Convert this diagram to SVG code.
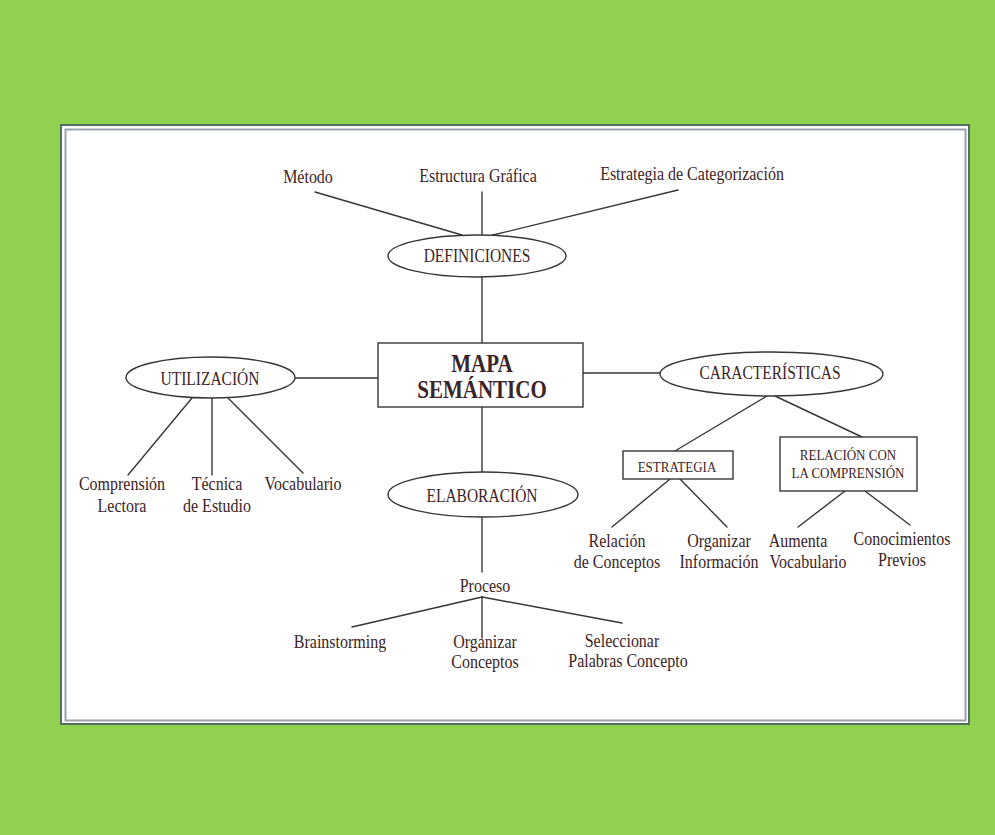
<svg xmlns="http://www.w3.org/2000/svg" width="995" height="835" viewBox="0 0 995 835">
<defs>
<style>
.bg{fill:#92d050}
.panel{fill:#ffffff;stroke:#4f6f60;stroke-width:2}
.inner{fill:none;stroke:#9aa3ad;stroke-width:2}
.shape{fill:#ffffff;stroke:#3a3535;stroke-width:1.4}
.wire{fill:none;stroke:#3a3535;stroke-width:1.4;stroke-linecap:round}
text{font-family:"Liberation Serif","Times New Roman",serif;fill:#3b2426;text-anchor:middle}
.t{font-size:16px}
.cap{font-size:15.5px}
.sm{font-size:13px}
.title{font-size:21px;font-weight:bold}
</style>
</defs>
<rect class="bg" x="0" y="0" width="995" height="835"/>
<rect class="panel" x="61" y="125" width="908" height="599"/>
<rect class="inner" x="65.5" y="129.5" width="900" height="591"/>

<g id="connectors">
<line class="wire" x1="315" y1="192" x2="462" y2="235"/>
<line class="wire" x1="482" y1="192" x2="482" y2="235"/>
<line class="wire" x1="678" y1="190" x2="493" y2="235"/>
<line class="wire" x1="482" y1="277" x2="482" y2="343"/>
<line class="wire" x1="295" y1="378" x2="378" y2="378"/>
<line class="wire" x1="583" y1="373" x2="660" y2="373"/>
<line class="wire" x1="192" y1="398" x2="128" y2="475"/>
<line class="wire" x1="212" y1="398" x2="212" y2="475"/>
<line class="wire" x1="228" y1="398" x2="303" y2="473"/>
<line class="wire" x1="767" y1="396" x2="675" y2="451"/>
<line class="wire" x1="775" y1="396" x2="862" y2="437"/>
<line class="wire" x1="670" y1="479" x2="612" y2="527"/>
<line class="wire" x1="680" y1="479" x2="727" y2="527"/>
<line class="wire" x1="845" y1="491" x2="798" y2="527"/>
<line class="wire" x1="865" y1="491" x2="910" y2="525"/>
<line class="wire" x1="482" y1="407" x2="482" y2="472"/>
<line class="wire" x1="482" y1="517" x2="482" y2="572"/>
<line class="wire" x1="482" y1="597" x2="352" y2="627"/>
<line class="wire" x1="482" y1="597" x2="482" y2="638"/>
<line class="wire" x1="482" y1="597" x2="622" y2="623"/>
</g>

<g id="metodo"><text class="t" transform="translate(308 183) scale(1 1.2)">Método</text></g>
<g id="estructura"><text class="t" transform="translate(478 182) scale(1 1.2)">Estructura Gráfica</text></g>
<g id="estrategia-cat"><text class="t" transform="translate(692 180) scale(1 1.2)">Estrategia de Categorización</text></g>

<g id="definiciones">
<ellipse class="shape" cx="477" cy="256" rx="89" ry="21"/>
<text class="cap" transform="translate(477 262) scale(1 1.2)">DEFINICIONES</text>
</g>

<g id="mapa">
<rect class="shape" x="378" y="343" width="205" height="64"/>
<text class="title" transform="translate(482 372) scale(1 1.2)"><tspan x="0" y="0">MAPA</tspan><tspan x="0" y="21.7">SEMÁNTICO</tspan></text>
</g>

<g id="utilizacion">
<ellipse class="shape" cx="210.5" cy="377.5" rx="84.5" ry="20.5"/>
<text class="cap" transform="translate(210 385) scale(1 1.2)">UTILIZACIÓN</text>
</g>

<g id="caracteristicas">
<ellipse class="shape" cx="771.5" cy="374" rx="111.5" ry="22"/>
<text class="cap" transform="translate(770 379) scale(1 1.2)">CARACTERÍSTICAS</text>
</g>

<g id="comprension"><text class="t" transform="translate(122 490) scale(1 1.2)"><tspan x="0" y="0">Comprensión</tspan><tspan x="0" y="18.3">Lectora</tspan></text></g>
<g id="tecnica"><text class="t" transform="translate(217 490) scale(1 1.2)"><tspan x="0" y="0">Técnica</tspan><tspan x="0" y="18.3">de Estudio</tspan></text></g>
<g id="vocabulario"><text class="t" transform="translate(303 490) scale(1 1.2)">Vocabulario</text></g>

<g id="estrategia">
<rect class="shape" x="623" y="451" width="110" height="28"/>
<text class="sm" transform="translate(677 472) scale(1 1.2)">ESTRATEGIA</text>
</g>

<g id="relacion">
<rect class="shape" x="780" y="437" width="137" height="54"/>
<text class="sm" transform="translate(848 460) scale(1 1.2)"><tspan x="0" y="0">RELACIÓN CON</tspan><tspan x="0" y="15">LA COMPRENSIÓN</tspan></text>
</g>

<g id="relacion-conceptos"><text class="t" transform="translate(617 547) scale(1 1.2)"><tspan x="0" y="0">Relación</tspan><tspan x="0" y="17.5">de Conceptos</tspan></text></g>
<g id="organizar-info"><text class="t" transform="translate(719 547) scale(1 1.2)"><tspan x="0" y="0">Organizar</tspan><tspan x="0" y="17.5">Información</tspan></text></g>
<g id="aumenta"><text class="t" transform="translate(805 547) scale(1 1.2)"><tspan x="-7" y="0">Aumenta</tspan><tspan x="3" y="17.5">Vocabulario</tspan></text></g>
<g id="conocimientos"><text class="t" transform="translate(902 545) scale(1 1.2)"><tspan x="0" y="0">Conocimientos</tspan><tspan x="0" y="17.5">Previos</tspan></text></g>

<g id="elaboracion">
<ellipse class="shape" cx="483" cy="494.5" rx="95" ry="22.5"/>
<text class="cap" transform="translate(482 502) scale(1 1.2)">ELABORACIÓN</text>
</g>

<g id="proceso"><text class="t" transform="translate(485 592) scale(1 1.2)">Proceso</text></g>
<g id="brainstorming"><text class="t" transform="translate(340 648) scale(1 1.2)">Brainstorming</text></g>
<g id="organizar-conceptos"><text class="t" transform="translate(485 648) scale(1 1.2)"><tspan x="0" y="0">Organizar</tspan><tspan x="0" y="16.7">Conceptos</tspan></text></g>
<g id="seleccionar"><text class="t" transform="translate(625 647) scale(1 1.2)"><tspan x="-3" y="0">Seleccionar</tspan><tspan x="3" y="16.5">Palabras Concepto</tspan></text></g>
</svg>
